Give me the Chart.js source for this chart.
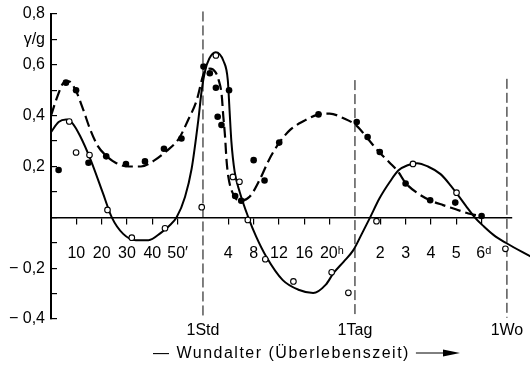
<!DOCTYPE html>
<html>
<head>
<meta charset="utf-8">
<script src="https://cdn.jsdelivr.net/npm/chart.js@4.4.1/dist/chart.umd.min.js"></script>
<style>
  html, body { margin: 0; padding: 0; background: #fff; }
  #wrap { width: 530px; height: 365px; }
</style>
</head>
<body>
<div id="wrap"><canvas id="chart" width="530" height="365"></canvas></div>
<script>
"use strict";

// x runs in three blocks of 6 units: minutes (10' a unit), hours (4 h a unit), days (1 d a unit)
const minuteLabels = ["10", "20", "30", "40", "50′"];
const hourLabels = ["4", "8", "12", "16", " 20ʰ"];
const dayLabels = ["2", "3", "4", "5", " 6ᵈ"];
const markLabels = ["1Std", "1Tag", "1Wo"];
const xTickValues = [1, 2, 3, 4, 5, 6, 7, 8, 9, 10, 11, 12, 13, 14, 15, 16, 17, 18];

const yTickValues = [-0.4, -0.3, -0.2, -0.1, 0, 0.1, 0.2, 0.3, 0.4, 0.5, 0.6, 0.7, 0.8];
const yTickLabels = ["− 0,4", "", "− 0,2", "", "", "", "0,2", "", "0,4", "", "0,6", "γ/g", "0,8"];

// open circles and the solid curve
const openX = [0.72, 0.99, 1.52, 2.23, 3.19, 4.5, 5.95, 6.51, 7.18, 7.44, 7.77, 8.46, 9.57, 11.08, 11.74, 12.85, 14.29, 16.01, 17.94];
const openY = [0.377, 0.255, 0.245, 0.029, -0.08, -0.043, 0.04, 0.637, 0.159, 0.14, -0.01, -0.165, -0.252, -0.216, -0.297, -0.015, 0.21, 0.097, -0.124];

const solidCurveX = [0, 0.3, 0.6, 0.85, 1.15, 1.55, 2.05, 2.4, 2.85, 3.35, 3.85, 4.35, 4.65, 4.96, 5.29, 5.55, 5.82, 5.95, 6.08, 6.25, 6.5, 6.81, 6.98, 7.05, 7.12, 7.25, 7.45, 7.79, 8.1, 8.5, 9.15, 9.8, 10.35, 10.85, 11.15, 11.55, 11.93, 12.27, 12.6, 12.97, 13.38, 13.72, 14.08, 14.45, 14.88, 15.38, 15.78, 16.01, 16.38, 16.73, 17.08, 17.48, 17.95, 18.95];
const solidCurveY = [0.335, 0.375, 0.385, 0.37, 0.32, 0.23, 0.095, 0, -0.065, -0.09, -0.09, -0.06, -0.035, 0, 0.08, 0.19, 0.386, 0.5, 0.575, 0.625, 0.65, 0.615, 0.54, 0.42, 0.3, 0.18, 0.1, 0, -0.076, -0.155, -0.247, -0.286, -0.298, -0.265, -0.22, -0.175, -0.13, -0.065, 0, 0.075, 0.14, 0.185, 0.205, 0.213, 0.2, 0.17, 0.125, 0.095, 0.045, 0, -0.035, -0.07, -0.1, -0.155];

// filled dots and the dashed curve
const filledX = [0.3, 0.59, 0.99, 1.48, 2.18, 2.96, 3.71, 4.46, 5.15, 6.02, 6.27, 6.51, 7.03, 6.58, 6.73, 7.27, 7.51, 8.0, 8.43, 9.01, 10.56, 12.07, 12.5, 12.98, 14.0, 14.97, 15.96, 17.0];
const filledY = [0.186, 0.53, 0.5, 0.215, 0.24, 0.21, 0.22, 0.27, 0.31, 0.593, 0.567, 0.51, 0.5, 0.396, 0.363, 0.084, 0.065, 0.225, 0.145, 0.294, 0.405, 0.375, 0.316, 0.257, 0.133, 0.067, 0.058, 0.005];

const dashedCurveX = [0, 0.25, 0.5, 0.7, 0.95, 1.25, 1.55, 1.85, 2.15, 2.55, 3.05, 3.55, 4.05, 4.55, 5.05, 5.4, 5.75, 6.05, 6.28, 6.5, 6.62, 6.74, 6.8, 6.87, 6.93, 7.0, 7.2, 7.46, 7.85, 8.25, 8.6, 9.0, 9.45, 10.0, 10.5, 11.0, 11.55, 12.07, 12.5, 12.97, 13.37, 13.7, 14.0, 14.47, 14.96, 15.48, 15.98, 16.48, 17.0];
const dashedCurveY = [0.4, 0.475, 0.53, 0.535, 0.505, 0.43, 0.345, 0.28, 0.245, 0.215, 0.2, 0.2, 0.222, 0.26, 0.31, 0.38, 0.46, 0.57, 0.585, 0.57, 0.54, 0.48, 0.4, 0.32, 0.225, 0.16, 0.09, 0.065, 0.082, 0.15, 0.225, 0.292, 0.345, 0.38, 0.403, 0.408, 0.39, 0.36, 0.31, 0.255, 0.215, 0.18, 0.135, 0.095, 0.067, 0.048, 0.032, 0.015, 0.005];

// dashed markers at 1 Std, 1 Tag, 1 Wo
const guideX = [6, 12, 18];
const guideTop = [0.81, 0.54, 0.545];
const guideBottom = -0.395;

const FONT = "'Liberation Sans', 'DejaVu Sans', sans-serif";
Chart.defaults.font.family = FONT;
Chart.defaults.font.size = 16;
Chart.defaults.color = "#000";

const pts = (xs, ys) => xs.map((x, i) => ({x: x, y: ys[i]}));

function xTickLabel(v) {
    if (v % 6 === 0) return ["", "", "", "", markLabels[v / 6 - 1]];
    return [minuteLabels, hourLabels, dayLabels][Math.floor(v / 6)][v % 6 - 1];
}

const tickInk = (ctx) => (ctx.tick && ctx.tick.value % 6 === 0) ? "rgba(0,0,0,0)" : "#000";

const guides = guideX.map((x, i) => ({
    data: [{x: x, y: guideTop[i]}, {x: x, y: guideBottom}],
    showLine: true,
    borderColor: "#000",
    borderWidth: 1,
    borderDash: [10, 4],
    pointRadius: 0,
    clip: false,
    order: 3,
}));

const axisTitle = {
    id: "axisTitle",
    afterDraw(chart) {
        const ctx = chart.ctx;
        ctx.save();
        ctx.font = "16px " + FONT;
        ctx.letterSpacing = "1.5px";
        ctx.fillStyle = "#000";
        ctx.strokeStyle = "#000";
        ctx.textBaseline = "alphabetic";
        const text = "— Wundalter (Überlebenszeit)";
        const x0 = 153, y0 = 358;
        ctx.fillText(text, x0, y0);
        const end = x0 + ctx.measureText(text).width + 6;
        const ay = 353;
        ctx.beginPath();
        ctx.moveTo(end, ay);
        ctx.lineTo(446, ay);
        ctx.lineWidth = 1;
        ctx.stroke();
        ctx.beginPath();
        ctx.moveTo(443, ay - 3.5);
        ctx.lineTo(460, ay);
        ctx.lineTo(443, ay + 3.5);
        ctx.closePath();
        ctx.fill();
        ctx.restore();
    }
};

new Chart(document.getElementById("chart"), {
    type: "scatter",
    data: {
        datasets: [
            {
                label: "offen",
                data: pts(openX, openY),
                pointRadius: 2.8,
                pointBackgroundColor: "#fff",
                pointBorderColor: "#000",
                pointBorderWidth: 1.1,
                showLine: false,
                clip: false,
                order: 0,
            },
            {
                label: "voll",
                data: pts(filledX, filledY),
                pointRadius: 3.3,
                pointBackgroundColor: "#000",
                pointBorderColor: "#000",
                pointBorderWidth: 0,
                showLine: false,
                order: 1,
            },
            {
                data: pts(solidCurveX, solidCurveY),
                showLine: true,
                borderColor: "#000",
                borderWidth: 2,
                pointRadius: 0,
                cubicInterpolationMode: "monotone",
                clip: false,
                order: 2,
            },
            {
                data: pts(dashedCurveX, dashedCurveY),
                showLine: true,
                borderColor: "#000",
                borderWidth: 2.2,
                borderDash: [11, 5],
                pointRadius: 0,
                cubicInterpolationMode: "monotone",
                order: 2,
            },
            ...guides,
        ],
    },
    options: {
        responsive: false,
        animation: false,
        events: [],
        layout: {autoPadding: false, padding: {top: 14, right: 18, bottom: 46, left: 0}},
        plugins: {legend: {display: false}, tooltip: {enabled: false}},
        scales: {
            x: {
                type: "linear",
                position: {y: 0},
                min: 0,
                max: 18.2,
                afterBuildTicks: (s) => { s.ticks = xTickValues.map((v) => ({value: v})); },
                afterFit: (s) => { s.paddingLeft = 0; s.paddingRight = 0; },
                grid: {drawOnChartArea: false, drawTicks: true, tickLength: 6, lineWidth: 1.2, color: tickInk, tickColor: tickInk},
                border: {display: true, color: "#000", width: 1.5},
                ticks: {autoSkip: false, maxRotation: 0, padding: 21, font: {size: 16, lineHeight: 1.2}, callback: (v) => xTickLabel(v)},
            },
            y: {
                type: "linear",
                position: "left",
                min: -0.4,
                max: 0.8,
                afterBuildTicks: (s) => { s.ticks = yTickValues.map((v) => ({value: v})); },
                afterFit: (s) => { s.width = 51; s.paddingTop = 0; s.paddingBottom = 0; },
                grid: {drawOnChartArea: false, drawTicks: true, tickLength: -6, color: "#000", lineWidth: 1.2},
                border: {display: true, color: "#000", width: 2},
                ticks: {padding: 12, callback: (v, i) => yTickLabels[i]},
            },
        },
    },
    plugins: [axisTitle],
});
</script>
</body>
</html>
